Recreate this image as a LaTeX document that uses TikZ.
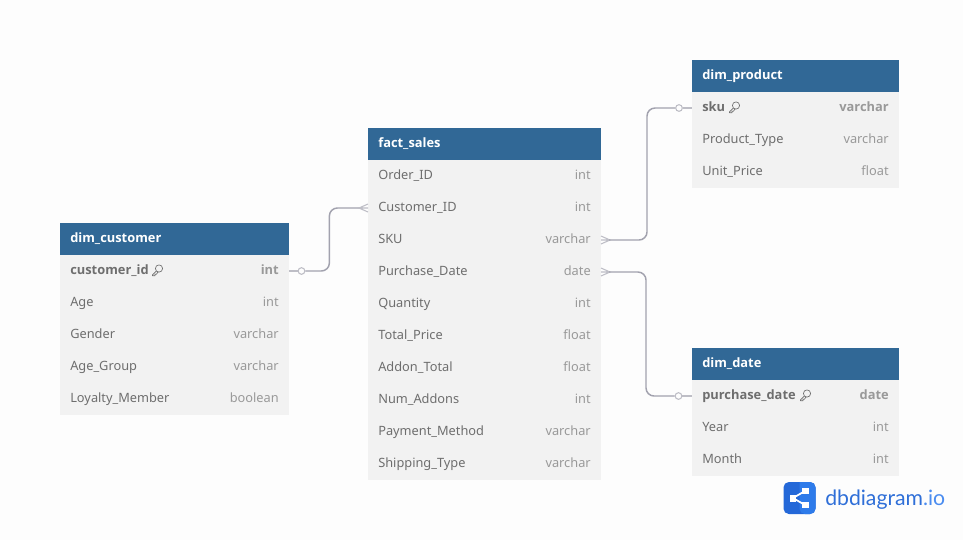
\documentclass[tikz,border=0pt]{standalone}
\usepackage{fontspec}
\setmainfont{Noto Sans}
\newfontfamily\heavyfont{Open Sans}
\newfontfamily\logofont{Lato}
\usetikzlibrary{calc}
\definecolor{hdr}{HTML}{316896}
\definecolor{rowbg}{HTML}{F2F2F2}
\definecolor{pagebg}{HTML}{FDFDFD}
\definecolor{nametxt}{HTML}{6E6E6E}
\definecolor{typetxt}{HTML}{999999}
\definecolor{conn}{HTML}{A2A2AE}
\definecolor{connlight}{HTML}{BEBEC6}
\definecolor{logoA}{HTML}{2468D8}
\definecolor{logoB}{HTML}{2E7BEA}
\definecolor{logotxt}{HTML}{2F6FD8}
\definecolor{logotxtb}{HTML}{4A8CF0}
\tikzset{
  x=0.75pt,y=-0.75pt,
  hdrbox/.style={fill=hdr,draw=none,inner sep=0,outer sep=0,anchor=north west,minimum height=24pt},
  rowbox/.style={fill=rowbg,draw=none,inner sep=0,outer sep=0,anchor=north west,minimum height=24pt},
  titletxt/.style={text=white,font=\heavyfont\bfseries\fontsize{9.65}{12}\selectfont,anchor=base west,inner sep=0},
  nametext/.style={text=nametxt,font=\fontsize{9.6}{12}\selectfont,anchor=base west,inner sep=0},
  typetext/.style={text=typetxt,font=\fontsize{9.6}{12}\selectfont,anchor=base east,inner sep=0},
  pkname/.style={nametext,font=\heavyfont\bfseries\fontsize{9.65}{12}\selectfont},
  pktype/.style={typetext,font=\heavyfont\bfseries\fontsize{9.65}{12}\selectfont},
  wire/.style={draw=conn,line width=1.1pt,rounded corners=6pt},
  wirelight/.style={draw=connlight,line width=0.8pt},
  opt/.style={circle,draw=connlight,fill=pagebg,line width=0.8pt,minimum size=5pt,inner sep=0},
}
% \keyicon{x}{y}: hollow key glyph, head at upper right, shaft to lower left
\newcommand{\keyicon}[2]{%
  \draw[nametxt,line width=0.5pt,line join=round]
    (#1+7,#2-1.5) circle[radius=3.6]
    (#1+4.4,#2+1) -- (#1+0.5,#2+4.8) -- (#1+0.5,#2+5.8) -- (#1+3,#2+5.8) -- (#1+3,#2+4.2) -- (#1+4.4,#2+4.2) -- (#1+6,#2+2);%
}
\newcommand{\tablehead}[5]{%
  \node[hdrbox,minimum width=#4*0.75pt] (#1) at (#2,#3) {};
  \node[titletxt] (#1t) at (#2+10,#3+19) {#5};
}
\newcommand{\pkrow}[6]{%
  \node[rowbox,minimum width=#4*0.75pt] (#1) at (#2,#3) {};
  \node[pkname] (#1n) at (#2+10,#3+19) {#5};
  \node[pktype] (#1y) at (#2+#4-10,#3+19) {#6};
}
\newcommand{\plainrow}[6]{%
  \node[rowbox,minimum width=#4*0.75pt] (#1) at (#2,#3) {};
  \node[nametext] (#1n) at (#2+10,#3+19) {#5};
  \node[typetext] (#1y) at (#2+#4-10,#3+19) {#6};
}
\begin{document}
\begin{tikzpicture}
\path[fill=pagebg] (0,0) rectangle (963,540);
\useasboundingbox (0,0) rectangle (963,540);

% dim_customer
\tablehead{cust}{60}{223}{229}{dim\_customer}
\pkrow{custa}{60}{255}{229}{customer\_id}{int}
\plainrow{custb}{60}{287}{229}{Age}{int}
\plainrow{custc}{60}{319}{229}{Gender}{varchar}
\plainrow{custd}{60}{351}{229}{Age\_Group}{varchar}
\plainrow{custe}{60}{383}{229}{Loyalty\_Member}{boolean}
\keyicon{152}{270}

% fact_sales
\tablehead{sales}{368}{128}{233}{fact\_sales}
\plainrow{salesa}{368}{160}{233}{Order\_ID}{int}
\plainrow{salesb}{368}{192}{233}{Customer\_ID}{int}
\plainrow{salesc}{368}{224}{233}{SKU}{varchar}
\plainrow{salesd}{368}{256}{233}{Purchase\_Date}{date}
\plainrow{salese}{368}{288}{233}{Quantity}{int}
\plainrow{salesf}{368}{320}{233}{Total\_Price}{float}
\plainrow{salesg}{368}{352}{233}{Addon\_Total}{float}
\plainrow{salesh}{368}{384}{233}{Num\_Addons}{int}
\plainrow{salesi}{368}{416}{233}{Payment\_Method}{varchar}
\plainrow{salesj}{368}{448}{233}{Shipping\_Type}{varchar}

% dim_product
\tablehead{prod}{692}{60}{207}{dim\_product}
\pkrow{proda}{692}{92}{207}{sku}{varchar}
\plainrow{prodb}{692}{124}{207}{Product\_Type}{varchar}
\plainrow{prodc}{692}{156}{207}{Unit\_Price}{float}
\keyicon{729}{107}

% dim_date
\tablehead{date}{692}{348}{207}{dim\_date}
\pkrow{datea}{692}{380}{207}{purchase\_date}{date}
\plainrow{dateb}{692}{412}{207}{Year}{int}
\plainrow{datec}{692}{444}{207}{Month}{int}
\keyicon{800}{395}

% connector end points
\coordinate (cOut) at ($(custa.east)+(0,0)$);
\coordinate (sIn) at ($(salesb.west)+(0,0)$);
\coordinate (skuOut) at ($(salesc.east)+(0,0)$);
\coordinate (dOut) at ($(salesd.east)+(0,0)$);
\coordinate (pIn) at ($(proda.west)+(0,0)$);
\coordinate (dIn) at ($(datea.west)+(0,0)$);
\node[opt] (o1) at ($(cOut)+(12.5,0)$) {};
\node[opt] (o2) at ($(pIn)+(-13,0)$) {};
\node[opt] (o3) at ($(dIn)+(-13.5,0)$) {};

% customer -> sales
\draw[wirelight] (cOut) -- (o1);
\draw[wire] (o1.east) -- ($(o1.east)+(24,0)$) |- ($(sIn)+(-8,0)$);
\draw[wirelight] (sIn) -- ($(sIn)+(-9,0)$) ($(sIn)+(0,-4)$) -- ($(sIn)+(-9,0)$) -- ($(sIn)+(0,4)$);
% sales -> product
\draw[wirelight] (skuOut) -- ($(skuOut)+(9,0)$) ($(skuOut)+(0,-4)$) -- ($(skuOut)+(9,0)$) -- ($(skuOut)+(0,4)$);
\draw[wire] ($(skuOut)+(8,0)$) -- ($(skuOut)+(46,0)$) |- (o2.west);
\draw[wirelight] (o2) -- (pIn);
% sales -> date
\draw[wirelight] (dOut) -- ($(dOut)+(9,0)$) ($(dOut)+(0,-4)$) -- ($(dOut)+(9,0)$) -- ($(dOut)+(0,4)$);
\draw[wire] ($(dOut)+(8,0)$) -- ($(dOut)+(45,0)$) |- (o3.west);
\draw[wirelight] (o3) -- (dIn);

% logo
\fill[logoA,rounded corners=4pt] (783.5,482) rectangle (815.5,514);
\fill[logoB,rounded corners=4pt] (799.5,482) -- (815.5,482) -- (815.5,514) -- (799.5,514) [sharp corners] -- cycle;
\draw[white,line width=1.3pt] (793,498) -- (805,491) (793,498) -- (805,505);
\fill[white] (789.5,495) rectangle (796,501.5);
\fill[white] (801.5,488) rectangle (808.5,494);
\fill[white] (801.5,502) rectangle (808.5,508);
\node[anchor=base west,inner sep=0,text=logotxt,font=\logofont\fontsize{15.9}{20}\selectfont] (logo) at (825,505.5) {dbdiagram\textcolor{logotxtb}{.io}};
\end{tikzpicture}
\end{document}
